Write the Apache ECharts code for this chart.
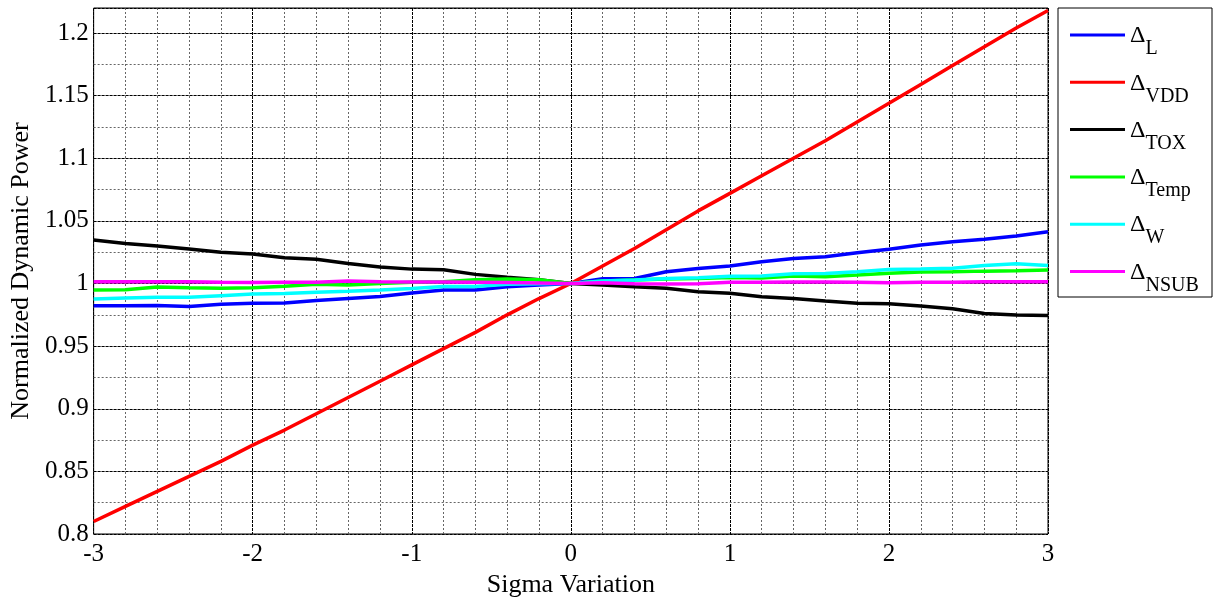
<!DOCTYPE html>
<html>
<head>
<meta charset="utf-8">
<script src="https://cdn.jsdelivr.net/npm/echarts@6/dist/echarts.min.js"></script>
<style>html,body{margin:0;padding:0;background:#fff;}#c{width:1214px;height:603px;}</style>
</head>
<body>
<div id="c"></div>
<script>
const sigma = [-3,-2.8,-2.6,-2.4,-2.2,-2.0,-1.8,-1.6,-1.4,-1.2,-1.0,-0.8,-0.6,-0.4,-0.2,0,0.2,0.4,0.6,0.8,1.0,1.2,1.4,1.6,1.8,2.0,2.2,2.4,2.6,2.8,3.0];
const dL    = [0.9822,0.9822,0.9825,0.9817,0.9835,0.9842,0.9844,0.9865,0.9881,0.9897,0.9925,0.9948,0.9948,0.9975,0.9989,1.0,1.0038,1.004,1.0094,1.012,1.014,1.0174,1.020,1.0214,1.0246,1.0274,1.0307,1.0334,1.0353,1.038,1.0413];
const dVDD  = [0.810,0.822,0.834,0.846,0.858,0.871,0.883,0.896,0.909,0.922,0.935,0.948,0.961,0.975,0.988,1.0,1.014,1.028,1.043,1.058,1.072,1.086,1.100,1.114,1.129,1.144,1.159,1.174,1.189,1.204,1.218];
const dTOX  = [1.0347,1.032,1.030,1.0275,1.025,1.0235,1.0205,1.0193,1.016,1.0132,1.0115,1.011,1.0073,1.005,1.003,1.0,0.9989,0.9975,0.9962,0.9935,0.9922,0.9894,0.988,0.986,0.9842,0.9838,0.982,0.9799,0.976,0.9748,0.9745];
const dTemp = [0.9948,0.995,0.9972,0.9966,0.9963,0.9966,0.9978,0.9994,0.9989,1.0,1.001,1.0015,1.003,1.0036,1.003,1.0,1.002,1.0028,1.0036,1.004,1.0048,1.0045,1.006,1.0055,1.0068,1.0082,1.0092,1.0094,1.0099,1.0102,1.0108];
const dW    = [0.9876,0.9884,0.989,0.989,0.9903,0.9916,0.992,0.993,0.9938,0.9948,0.996,0.9977,0.9977,0.9994,0.9998,1.0,1.002,1.0028,1.004,1.0046,1.0058,1.006,1.0078,1.0081,1.0094,1.0112,1.0115,1.0122,1.0144,1.0157,1.0144];
const dNSUB = [1.0015,1.0015,1.0015,1.0015,1.001,1.0008,1.001,1.001,1.002,1.0015,1.0012,1.0012,1.001,1.0008,1.0005,1.0,1.0007,0.9998,0.9996,0.9998,1.001,1.001,1.0012,1.0012,1.001,1.0007,1.001,1.001,1.0015,1.0015,1.0015];

const seriesNames = ['L','VDD','TOX','Temp','W','NSUB'];
const seriesData = [dL,dVDD,dTOX,dTemp,dW,dNSUB];
const seriesColors = ['#0000ff','#ff0000','#000000','#00ff00','#00ffff','#ff00ff'];

const FONT = 'Liberation Serif';
const chart = echarts.init(document.getElementById('c'));
const pair = arr => sigma.map((x,i)=>[x,arr[i]]);

chart.setOption({
  animation: false,
  backgroundColor: '#fff',
  textStyle: {fontFamily: FONT, color: '#000'},
  grid: {left: 93, right: 166, top: 8, bottom: 69, show: true, borderColor: '#000', borderWidth: 1, backgroundColor: 'transparent'},
  graphic: [{type: 'rect', shape: {x: 1058, y: 8, width: 154, height: 289}, style: {fill: '#fff', stroke: '#000', lineWidth: 1}, z: 0}],
  legend: {
    orient: 'vertical', left: 1058, top: 8, padding: [15, 10, 8, 12],
    icon: 'rect', itemWidth: 55, itemHeight: 3, itemGap: 11.3,
    data: seriesNames,
    formatter: n => '{d|Δ}{s|' + n + '}',
    textStyle: {
      fontFamily: FONT, color: '#000',
      rich: {
        d: {fontFamily: FONT, fontSize: 24, lineHeight: 24, verticalAlign: 'top', padding: [1,0,0,0], color: '#000'},
        s: {fontFamily: FONT, fontSize: 20, lineHeight: 20, verticalAlign: 'top', padding: [16,0,0,0], color: '#000'}
      }
    }
  },
  xAxis: {
    type: 'value', min: -3, max: 3, interval: 1,
    name: 'Sigma Variation', nameLocation: 'middle', nameGap: 34,
    nameTextStyle: {fontFamily: FONT, fontSize: 26, color: '#000'},
    axisLine: {show: false}, axisTick: {show: false},
    axisLabel: {fontFamily: FONT, fontSize: 25, color: '#000', margin: 8},
    splitLine: {show: true, lineStyle: {color: '#000', width: 1, type: [3,1]}},
    minorTick: {show: false, splitNumber: 5},
    minorSplitLine: {show: true, lineStyle: {color: '#666', width: 1, type: [2,2]}}
  },
  yAxis: [{
    type: 'value', min: 0.8, max: 1.22, interval: 0.05, z: 2,
    name: 'Normalized Dynamic Power', nameLocation: 'middle', nameGap: 59,
    nameTextStyle: {fontFamily: FONT, fontSize: 26, color: '#000'},
    axisLine: {show: false}, axisTick: {show: false},
    axisLabel: {fontFamily: FONT, fontSize: 25, color: '#000', margin: 5, showMaxLabel: false},
    splitLine: {show: true, lineStyle: {color: '#000', width: 1, type: [3,1]}}
  }, {
    type: 'value', min: 0.8, max: 1.22, interval: 0.025, z: 1, position: 'left',
    axisLine: {show: false}, axisTick: {show: false}, axisLabel: {show: false},
    splitLine: {show: true, lineStyle: {color: '#666', width: 1, type: [2,2]}}
  }],
  series: seriesNames.map((n,i)=>({
    name: n, type: 'line', yAxisIndex: 0, data: pair(seriesData[i]),
    symbol: 'none', showSymbol: false, z: 3 + i,
    lineStyle: {color: seriesColors[i], width: 3.5},
    itemStyle: {color: seriesColors[i]}
  }))
});
</script>
</body>
</html>
